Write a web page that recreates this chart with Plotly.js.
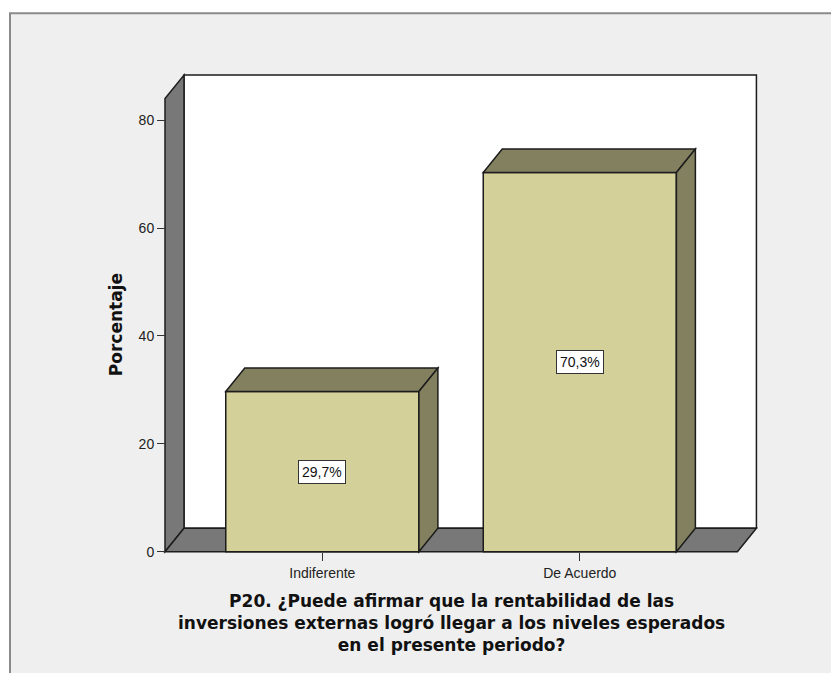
<!DOCTYPE html>
<html>
<head>
<meta charset="utf-8">
<script src="https://cdn.plot.ly/plotly-3.0.1.min.js"></script>
<style>
  html, body { margin: 0; padding: 0; background: #ffffff; }
  #chart { width: 831px; height: 673px; }
</style>
</head>
<body>
<div id="chart"></div>
<script>
// Survey answer categories and their share of respondents (%)
const categories = ['Indiferente', 'De Acuerdo'];
const percents = [29.7, 70.3];
const yTickVals = [0, 20, 40, 60, 80];
const yTickText = ['0', '20', '40', '60', '80'];
const questionLines = [
  'P20. ¿Puede afirmar que la rentabilidad de las',
  'inversiones externas logró llegar a los niveles esperados',
  'en el presente periodo?'
];
const yTitle = 'Porcentaje';

// Pseudo-3D box geometry (data units)
const barWidth = 0.75;
const floorX = [-0.611, 1.612];   // front edge of floor
const wallTop = 88.39;            // top of the back wall
const depthX = 0.0738;            // depth offset along x
const depthY = 4.36;              // depth offset along y

const colFront = '#d4d09a';
const colDepth = '#838060';
const colWall = '#787878';
const colLine = '#1c1c1c';

const xs = categories.map((c, i) => i);

function poly(pts) {
  return 'M' + pts.map(p => p[0] + ',' + p[1]).join(' L') + ' Z';
}

const shapes = [];

// Outer light panel with its border
shapes.push({
  type: 'rect', xref: 'paper', yref: 'paper', layer: 'below',
  x0: -0.2496, x1: 1.14, y0: -0.27, y1: 1.1215,
  fillcolor: '#efefef', line: { color: '#8a8a8a', width: 2 }
});

// Back wall
shapes.push({
  type: 'path', xref: 'x', yref: 'y', layer: 'below',
  path: poly([[floorX[0] + depthX, depthY], [floorX[1] + depthX, depthY],
              [floorX[1] + depthX, wallTop], [floorX[0] + depthX, wallTop]]),
  fillcolor: '#ffffff', line: { color: colLine, width: 1.5 }
});
// Left wall
shapes.push({
  type: 'path', xref: 'x', yref: 'y', layer: 'below',
  path: poly([[floorX[0], 0], [floorX[0] + depthX, depthY],
              [floorX[0] + depthX, wallTop], [floorX[0], wallTop - depthY]]),
  fillcolor: colWall, line: { color: colLine, width: 1.5 }
});
// Floor
shapes.push({
  type: 'path', xref: 'x', yref: 'y', layer: 'below',
  path: poly([[floorX[0], 0], [floorX[1], 0],
              [floorX[1] + depthX, depthY], [floorX[0] + depthX, depthY]]),
  fillcolor: colWall, line: { color: colLine, width: 1.5 }
});

// Top and side faces of each bar
xs.forEach((x, i) => {
  const v = percents[i];
  const h = barWidth / 2;
  shapes.push({
    type: 'path', xref: 'x', yref: 'y', layer: 'above',
    path: poly([[x - h, v], [x - h + depthX, v + depthY],
                [x + h + depthX, v + depthY], [x + h, v]]),
    fillcolor: colDepth, line: { color: colLine, width: 1.5 }
  });
  shapes.push({
    type: 'path', xref: 'x', yref: 'y', layer: 'above',
    path: poly([[x + h, 0], [x + h + depthX, depthY],
                [x + h + depthX, v + depthY], [x + h, v]]),
    fillcolor: colDepth, line: { color: colLine, width: 1.5 }
  });
});

// Value labels on the front faces
const annotations = xs.map((x, i) => ({
  x: x, y: percents[i] / 2, xref: 'x', yref: 'y',
  text: percents[i].toFixed(1).replace('.', ',') + '%',
  showarrow: false,
  font: { family: 'Liberation Sans, Arial, sans-serif', size: 14, color: '#111111' },
  bgcolor: '#ffffff', bordercolor: '#333333', borderwidth: 1, borderpad: 3
}));

// Vertical axis title
annotations.push({
  x: -0.0732, xref: 'paper', y: 42.0, yref: 'y',
  text: yTitle, textangle: -90, showarrow: false,
  xanchor: 'center', yanchor: 'middle',
  font: { family: 'DejaVu Sans, sans-serif', size: 17, weight: 'bold', color: '#111111' }
});

// Question text under the chart
annotations.push({
  x: (floorX[0] + floorX[1]) / 2, xref: 'x', y: -0.141, yref: 'paper',
  text: questionLines.join('<br>'), showarrow: false,
  xanchor: 'center', yanchor: 'middle', align: 'center',
  font: { family: 'DejaVu Sans, sans-serif', size: 17, weight: 'bold', color: '#111111' }
});

const trace = {
  type: 'bar',
  x: xs,
  y: percents,
  width: barWidth,
  marker: { color: colFront, line: { color: colLine, width: 1.5 } },
  hoverinfo: 'none'
};

const tickFont = { family: 'Liberation Sans, Arial, sans-serif', size: 14, color: '#222222' };

const layout = {
  width: 831, height: 673,
  margin: { l: 160, r: 70, t: 72, b: 118, pad: 0 },
  paper_bgcolor: '#ffffff',
  plot_bgcolor: 'rgba(0,0,0,0)',
  showlegend: false,
  xaxis: {
    type: 'linear', range: [-0.6304, 1.7036],
    tickvals: xs, ticktext: categories,
    ticks: 'outside', ticklen: 8, tickwidth: 1, tickcolor: '#333333',
    showgrid: false, zeroline: false, showline: false,
    tickfont: tickFont, anchor: 'free', position: 0.00683,
    fixedrange: true
  },
  yaxis: {
    type: 'linear', range: [-0.612, 88.95],
    tickvals: yTickVals, ticktext: yTickText,
    ticks: 'outside', ticklen: 8, tickwidth: 1, tickcolor: '#333333',
    showgrid: false, zeroline: false, showline: false,
    tickfont: tickFont, anchor: 'free', position: 0.00832,
    fixedrange: true
  },
  shapes: shapes,
  annotations: annotations
};

Plotly.newPlot('chart', [trace], layout, { displayModeBar: false, staticPlot: true });
</script>
</body>
</html>
